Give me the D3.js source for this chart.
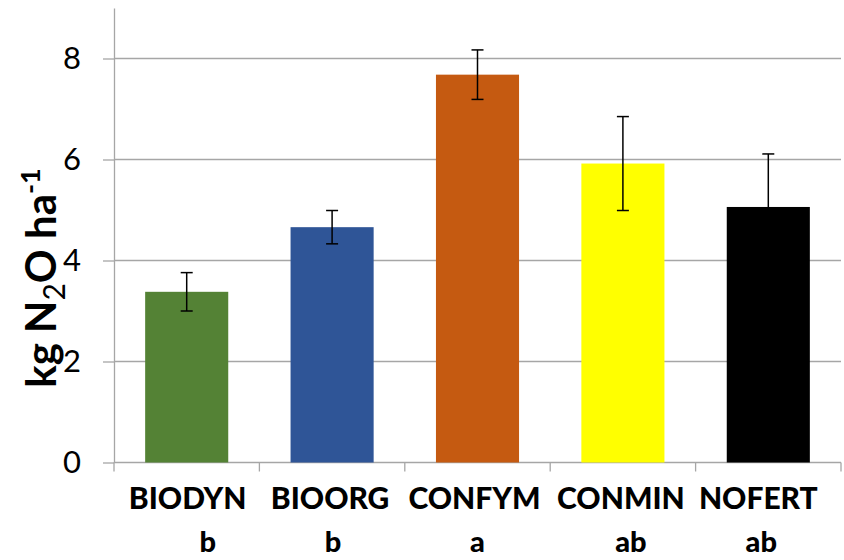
<!DOCTYPE html>
<html><head><meta charset="utf-8">
<script src="https://cdn.jsdelivr.net/npm/d3@7"></script>
<style>body{margin:0;background:#fff}svg{display:block}</style>
</head><body>
<svg id="c" width="844" height="560"></svg>
<script>
const categories = ["BIODYN","BIOORG","CONFYM","CONMIN","NOFERT"];
const values = [3.38, 4.66, 7.68, 5.92, 5.06];
const errors = [0.38, 0.33, 0.49, 0.93, 1.05];
const letters = ["b","b","a","ab","ab"];
const colors = ["#548235","#2F5597","#C55A11","#FFFF00","#000000"];
const yTicks = [0,2,4,6,8];

(function(){
const svg = d3.select("#c");
const pLeft = 114, pRight = 841, pTop = 8, pBottom = 462.5;
const x = d3.scaleBand().domain(categories).range([pLeft, pRight]).padding(0);
const y = d3.scaleLinear().domain([0, 9]).range([pBottom, pTop]);
const bw = x.step() / 1.75;
const grid = "#a6a6a6";

// gridlines
svg.append("g").selectAll("line").data(yTicks).join("line")
  .attr("x1", pLeft).attr("x2", pRight)
  .attr("y1", d => y(d)).attr("y2", d => y(d))
  .attr("stroke", grid).attr("stroke-width", 1.3);

// y axis
const ya = svg.append("g").attr("transform", `translate(${pLeft},0)`)
  .call(d3.axisLeft(y).tickValues(yTicks).tickSize(11).tickPadding(22).tickSizeOuter(0));
ya.select(".domain").attr("stroke", grid).attr("stroke-width", 1.3);
ya.selectAll(".tick line").attr("stroke", grid).attr("stroke-width", 1.3);
ya.selectAll(".tick text").attr("font-family", "Lato, sans-serif").attr("font-size", 31).attr("fill", "#000");

// x axis ticks at band boundaries
const bounds = categories.map(c => x(c)).concat([pRight]);
svg.append("g").selectAll("line").data(bounds).join("line")
  .attr("x1", d => d).attr("x2", d => d)
  .attr("y1", pBottom).attr("y2", pBottom + 9)
  .attr("stroke", grid).attr("stroke-width", 1.3);

// bars
svg.append("g").selectAll("rect").data(values).join("rect")
  .attr("x", (d,i) => x(categories[i]) + (x.step()-bw)/2)
  .attr("width", bw)
  .attr("y", d => y(d))
  .attr("height", d => y(0) - y(d))
  .attr("fill", (d,i) => colors[i]);

// error bars
const eb = svg.append("g").attr("stroke", "#000").attr("stroke-width", 1.5);
values.forEach((v,i) => {
  const cx = x(categories[i]) + x.step()/2;
  eb.append("line").attr("x1", cx).attr("x2", cx).attr("y1", y(v+errors[i])).attr("y2", y(v-errors[i]));
  eb.append("line").attr("x1", cx-6).attr("x2", cx+6).attr("y1", y(v+errors[i])).attr("y2", y(v+errors[i]));
  eb.append("line").attr("x1", cx-6).attr("x2", cx+6).attr("y1", y(v-errors[i])).attr("y2", y(v-errors[i]));
});

// category labels
const labOff = [1, -2, -3, -2, -10];
const letOff = [21, 1, 0, 8, -7];
svg.append("g").selectAll("text").data(categories).join("text")
  .attr("x", (d,i) => x(d) + x.step()/2 + labOff[i]).attr("y", 509)
  .attr("text-anchor", "middle").attr("font-family", "Lato, sans-serif")
  .attr("font-weight", 900).attr("font-size", 30).text(d => d);
svg.append("g").selectAll("text").data(letters).join("text")
  .attr("x", (d,i) => x(categories[i]) + x.step()/2 + letOff[i]).attr("y", 552)
  .attr("text-anchor", "middle").attr("font-family", "Lato, sans-serif")
  .attr("font-weight", 900).attr("font-size", 29).text(d => d);

// y title
const t = svg.append("text").attr("transform", "translate(56,278) rotate(-90)")
  .attr("text-anchor", "middle").attr("font-family", "Lato, sans-serif")
  .attr("font-weight", 700).attr("font-size", 42);
t.append("tspan").text("kg N");
t.append("tspan").attr("dy", 9).attr("font-size", 30).attr("font-weight", 400).text("2");
t.append("tspan").attr("dy", -9).text("O ha");
t.append("tspan").attr("dy", -16).attr("font-size", 27).text("-1");
})();
</script>
</body></html>
